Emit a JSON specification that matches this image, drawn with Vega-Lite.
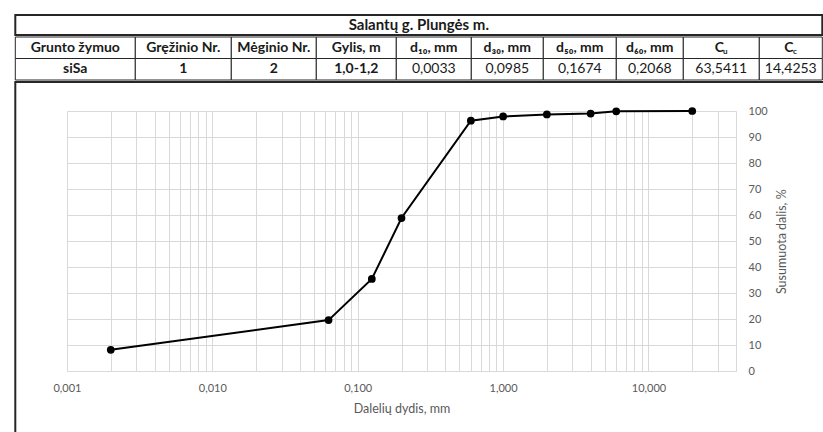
{
  "$schema": "https://vega.github.io/schema/vega-lite/v6.json",
  "padding": {"left": 14, "top": 14, "right": 0, "bottom": 0},
  "background": "#ffffff",
  "config": {
    "view": {"stroke": null},
    "font": "Lato",
    "text": {"font": "Lato", "fontSize": 14, "color": "#1a1a1a", "baseline": "middle", "align": "center"}
  },
  "datasets": {
    "table": [
      {"col": "title", "row": "title", "text": "Salantų g. Plungės m.", "sub": ""},
      {"col": "c1", "row": "header", "text": "Grunto žymuo", "sub": ""},
      {"col": "c1", "row": "value", "text": "siSa", "sub": ""},
      {"col": "c2", "row": "header", "text": "Gręžinio Nr.", "sub": ""},
      {"col": "c2", "row": "value", "text": "1", "sub": ""},
      {"col": "c3", "row": "header", "text": "Mėginio Nr.", "sub": ""},
      {"col": "c3", "row": "value", "text": "2", "sub": ""},
      {"col": "c4", "row": "header", "text": "Gylis, m", "sub": ""},
      {"col": "c4", "row": "value", "text": "1,0-1,2", "sub": ""},
      {"col": "c5", "row": "header", "text": "d₁₀, mm", "sub": ""},
      {"col": "c5", "row": "value", "text": "0,0033", "sub": ""},
      {"col": "c6", "row": "header", "text": "d₃₀, mm", "sub": ""},
      {"col": "c6", "row": "value", "text": "0,0985", "sub": ""},
      {"col": "c7", "row": "header", "text": "d₅₀, mm", "sub": ""},
      {"col": "c7", "row": "value", "text": "0,1674", "sub": ""},
      {"col": "c8", "row": "header", "text": "d₆₀, mm", "sub": ""},
      {"col": "c8", "row": "value", "text": "0,2068", "sub": ""},
      {"col": "c9", "row": "header", "text": "C", "sub": "u"},
      {"col": "c9", "row": "value", "text": "63,5411", "sub": ""},
      {"col": "c10", "row": "header", "text": "C", "sub": "c"},
      {"col": "c10", "row": "value", "text": "14,4253", "sub": ""}
    ],
    "grading": [
      {"size": 0.002, "pass": 8.3},
      {"size": 0.063, "pass": 19.7},
      {"size": 0.125, "pass": 35.5},
      {"size": 0.2, "pass": 58.9},
      {"size": 0.6, "pass": 96.3},
      {"size": 1, "pass": 97.9},
      {"size": 2, "pass": 98.7},
      {"size": 4, "pass": 99.0},
      {"size": 6, "pass": 99.9},
      {"size": 20, "pass": 100}
    ]
  },
  "spacing": 0,
  "vconcat": [
    {
      "data": {"name": "table"},
      "width": 807,
      "height": 20,
      "transform": [{"filter": "datum.row === 'title'"}],
      "encoding": {"x": {"field": "col", "type": "nominal", "scale": {"range": [-51.7, 755.3], "paddingInner": 0, "paddingOuter": 0}, "axis": null}},
      "layer": [
        {"mark": {"type": "rect", "fill": "#ffffff", "stroke": "#262626", "strokeWidth": 2}},
        {"mark": {"type": "text", "fontWeight": "bold", "fontSize": 15}, "encoding": {"text": {"field": "text"}}}
      ]
    },
    {
      "data": {"name": "table"},
      "spacing": 0,
      "bounds": "flush",
      "hconcat": [
        {
          "width": 120, "height": 43,
          "transform": [{"filter": "datum.col === 'c1'"}],
          "encoding": {
            "x": {"field": "col", "type": "nominal", "scale": {"range": [-51.7, 68.3], "paddingInner": 0, "paddingOuter": 0}, "axis": null},
            "y": {"field": "row", "type": "nominal", "scale": {"domain": ["header", "value"], "paddingInner": 0, "paddingOuter": 0}, "axis": null}
          },
          "layer": [
            {"mark": {"type": "rect", "fill": "#ffffff", "stroke": "#262626", "strokeWidth": 1}},
            {"mark": {"type": "text", "fontWeight": "bold"}, "encoding": {"text": {"field": "text"}}}
          ]
        },
        {
          "width": 96, "height": 43,
          "transform": [{"filter": "datum.col === 'c2'"}],
          "encoding": {
            "x": {"field": "col", "type": "nominal", "scale": {"range": [-51.7, 44.3], "paddingInner": 0, "paddingOuter": 0}, "axis": null},
            "y": {"field": "row", "type": "nominal", "scale": {"domain": ["header", "value"], "paddingInner": 0, "paddingOuter": 0}, "axis": null}
          },
          "layer": [
            {"mark": {"type": "rect", "fill": "#ffffff", "stroke": "#262626", "strokeWidth": 1}},
            {"mark": {"type": "text", "fontWeight": "bold"}, "encoding": {"text": {"field": "text"}}}
          ]
        },
        {
          "width": 85, "height": 43,
          "transform": [{"filter": "datum.col === 'c3'"}],
          "encoding": {
            "x": {"field": "col", "type": "nominal", "scale": {"range": [-51.7, 33.3], "paddingInner": 0, "paddingOuter": 0}, "axis": null},
            "y": {"field": "row", "type": "nominal", "scale": {"domain": ["header", "value"], "paddingInner": 0, "paddingOuter": 0}, "axis": null}
          },
          "layer": [
            {"mark": {"type": "rect", "fill": "#ffffff", "stroke": "#262626", "strokeWidth": 1}},
            {"mark": {"type": "text", "fontWeight": "bold"}, "encoding": {"text": {"field": "text"}}}
          ]
        },
        {
          "width": 80, "height": 43,
          "transform": [{"filter": "datum.col === 'c4'"}],
          "encoding": {
            "x": {"field": "col", "type": "nominal", "scale": {"range": [-51.7, 28.3], "paddingInner": 0, "paddingOuter": 0}, "axis": null},
            "y": {"field": "row", "type": "nominal", "scale": {"domain": ["header", "value"], "paddingInner": 0, "paddingOuter": 0}, "axis": null}
          },
          "layer": [
            {"mark": {"type": "rect", "fill": "#ffffff", "stroke": "#262626", "strokeWidth": 1}},
            {"mark": {"type": "text", "fontWeight": "bold"}, "encoding": {"text": {"field": "text"}}}
          ]
        },
        {
          "width": 75, "height": 43,
          "transform": [{"filter": "datum.col === 'c5'"}],
          "encoding": {
            "x": {"field": "col", "type": "nominal", "scale": {"range": [-51.7, 23.3], "paddingInner": 0, "paddingOuter": 0}, "axis": null},
            "y": {"field": "row", "type": "nominal", "scale": {"domain": ["header", "value"], "paddingInner": 0, "paddingOuter": 0}, "axis": null}
          },
          "layer": [
            {"mark": {"type": "rect", "fill": "#ffffff", "stroke": "#262626", "strokeWidth": 1}},
            {"transform": [{"filter": "datum.row === 'header'"}], "mark": {"type": "text", "fontWeight": "bold"}, "encoding": {"text": {"field": "text"}}},
            {"transform": [{"filter": "datum.row === 'value'"}], "mark": {"type": "text", "fontWeight": "normal"}, "encoding": {"text": {"field": "text"}}}
          ]
        },
        {
          "width": 72, "height": 43,
          "transform": [{"filter": "datum.col === 'c6'"}],
          "encoding": {
            "x": {"field": "col", "type": "nominal", "scale": {"range": [-51.7, 20.3], "paddingInner": 0, "paddingOuter": 0}, "axis": null},
            "y": {"field": "row", "type": "nominal", "scale": {"domain": ["header", "value"], "paddingInner": 0, "paddingOuter": 0}, "axis": null}
          },
          "layer": [
            {"mark": {"type": "rect", "fill": "#ffffff", "stroke": "#262626", "strokeWidth": 1}},
            {"transform": [{"filter": "datum.row === 'header'"}], "mark": {"type": "text", "fontWeight": "bold"}, "encoding": {"text": {"field": "text"}}},
            {"transform": [{"filter": "datum.row === 'value'"}], "mark": {"type": "text", "fontWeight": "normal"}, "encoding": {"text": {"field": "text"}}}
          ]
        },
        {
          "width": 73, "height": 43,
          "transform": [{"filter": "datum.col === 'c7'"}],
          "encoding": {
            "x": {"field": "col", "type": "nominal", "scale": {"range": [-51.7, 21.3], "paddingInner": 0, "paddingOuter": 0}, "axis": null},
            "y": {"field": "row", "type": "nominal", "scale": {"domain": ["header", "value"], "paddingInner": 0, "paddingOuter": 0}, "axis": null}
          },
          "layer": [
            {"mark": {"type": "rect", "fill": "#ffffff", "stroke": "#262626", "strokeWidth": 1}},
            {"transform": [{"filter": "datum.row === 'header'"}], "mark": {"type": "text", "fontWeight": "bold"}, "encoding": {"text": {"field": "text"}}},
            {"transform": [{"filter": "datum.row === 'value'"}], "mark": {"type": "text", "fontWeight": "normal"}, "encoding": {"text": {"field": "text"}}}
          ]
        },
        {
          "width": 67, "height": 43,
          "transform": [{"filter": "datum.col === 'c8'"}],
          "encoding": {
            "x": {"field": "col", "type": "nominal", "scale": {"range": [-51.7, 15.3], "paddingInner": 0, "paddingOuter": 0}, "axis": null},
            "y": {"field": "row", "type": "nominal", "scale": {"domain": ["header", "value"], "paddingInner": 0, "paddingOuter": 0}, "axis": null}
          },
          "layer": [
            {"mark": {"type": "rect", "fill": "#ffffff", "stroke": "#262626", "strokeWidth": 1}},
            {"transform": [{"filter": "datum.row === 'header'"}], "mark": {"type": "text", "fontWeight": "bold"}, "encoding": {"text": {"field": "text"}}},
            {"transform": [{"filter": "datum.row === 'value'"}], "mark": {"type": "text", "fontWeight": "normal"}, "encoding": {"text": {"field": "text"}}}
          ]
        },
        {
          "width": 76, "height": 43,
          "transform": [{"filter": "datum.col === 'c9'"}],
          "encoding": {
            "x": {"field": "col", "type": "nominal", "scale": {"range": [-51.7, 24.3], "paddingInner": 0, "paddingOuter": 0}, "axis": null},
            "y": {"field": "row", "type": "nominal", "scale": {"domain": ["header", "value"], "paddingInner": 0, "paddingOuter": 0}, "axis": null}
          },
          "layer": [
            {"mark": {"type": "rect", "fill": "#ffffff", "stroke": "#262626", "strokeWidth": 1}},
            {"transform": [{"filter": "datum.row === 'header'"}], "mark": {"type": "text", "fontWeight": "bold", "dx": -2}, "encoding": {"text": {"field": "text"}}},
            {"transform": [{"filter": "datum.row === 'header'"}], "mark": {"type": "text", "fontWeight": "bold", "fontSize": 8, "dx": 4, "dy": 4}, "encoding": {"text": {"field": "sub"}}},
            {"transform": [{"filter": "datum.row === 'value'"}], "mark": {"type": "text", "fontWeight": "normal"}, "encoding": {"text": {"field": "text"}}}
          ]
        },
        {
          "width": 63, "height": 43,
          "transform": [{"filter": "datum.col === 'c10'"}],
          "encoding": {
            "x": {"field": "col", "type": "nominal", "scale": {"range": [-51.7, 11.3], "paddingInner": 0, "paddingOuter": 0}, "axis": null},
            "y": {"field": "row", "type": "nominal", "scale": {"domain": ["header", "value"], "paddingInner": 0, "paddingOuter": 0}, "axis": null}
          },
          "layer": [
            {"mark": {"type": "rect", "fill": "#ffffff", "stroke": "#262626", "strokeWidth": 1}},
            {"transform": [{"filter": "datum.row === 'header'"}], "mark": {"type": "text", "fontWeight": "bold", "dx": -2}, "encoding": {"text": {"field": "text"}}},
            {"transform": [{"filter": "datum.row === 'header'"}], "mark": {"type": "text", "fontWeight": "bold", "fontSize": 8, "dx": 4, "dy": 4}, "encoding": {"text": {"field": "sub"}}},
            {"transform": [{"filter": "datum.row === 'value'"}], "mark": {"type": "text", "fontWeight": "normal"}, "encoding": {"text": {"field": "text"}}}
          ]
        }
      ]
    },
    {
      "width": 669,
      "height": 260.4,
      "resolve": {"scale": {"x": "independent", "y": "independent"}, "axis": {"x": "independent", "y": "independent"}},
      "layer": [
        {
          "data": {"name": "table"},
          "transform": [{"filter": "datum.row === 'title'"}],
          "mark": {"type": "rect", "fill": "transparent", "stroke": "#262626", "strokeWidth": 2},
          "encoding": {
            "x": {"field": "col", "type": "nominal", "scale": {"range": [-51.7, 820], "paddingInner": 0, "paddingOuter": 0}, "axis": null},
            "y": {"field": "row", "type": "nominal", "scale": {"range": [-29, 340], "paddingInner": 0, "paddingOuter": 0}, "axis": null}
          }
        },
        {
          "data": {"name": "grading"},
          "encoding": {
            "x": {
              "field": "size", "type": "quantitative",
              "scale": {"type": "log", "domain": [0.001, 40], "nice": false},
              "axis": {
                "orient": "bottom",
                "values": [0.001, 0.002, 0.003, 0.004, 0.005, 0.006, 0.007, 0.008, 0.009, 0.01, 0.02, 0.03, 0.04, 0.05, 0.06, 0.07, 0.08, 0.09, 0.1, 0.2, 0.3, 0.4, 0.5, 0.6, 0.7, 0.8, 0.9, 1, 2, 3, 4, 5, 6, 7, 8, 9, 10, 20, 30, 40],
                "labelExpr": "indexof([0.001, 0.01, 0.1, 1, 10], datum.value) >= 0 ? replace(format(datum.value, '.3f'), '.', ',') : ''",
                "labelOverlap": false,
                "labelFlush": false,
                "labelBound": false,
                "grid": true,
                "gridColor": "#d9d9d9",
                "gridWidth": 1,
                "ticks": false,
                "domain": false,
                "labelPadding": 11,
                "labelColor": "#595959",
                "labelFont": "Lato",
                "labelFontSize": 11,
                "title": "Dalelių dydis, mm",
                "titleColor": "#595959",
                "titleFont": "Lato",
                "titleFontSize": 12.5,
                "titleFontWeight": "normal",
                "titlePadding": 9
              }
            },
            "y": {
              "field": "pass", "type": "quantitative",
              "scale": {"domain": [0, 100], "nice": false},
              "axis": {
                "orient": "right",
                "values": [0, 10, 20, 30, 40, 50, 60, 70, 80, 90, 100],
                "grid": true,
                "gridColor": "#d9d9d9",
                "gridWidth": 1,
                "ticks": false,
                "domain": false,
                "labelPadding": 12,
                "labelAlign": "left",
                "labelColor": "#595959",
                "labelFont": "Lato",
                "labelFontSize": 11,
                "labelFlush": false,
                "labelOverlap": false,
                "title": "Susumuota dalis, %",
                "titleAngle": 270,
                "titleColor": "#595959",
                "titleFont": "Lato",
                "titleFontSize": 12.5,
                "titleFontWeight": "normal",
                "titlePadding": 21
              }
            }
          },
          "layer": [
            {"mark": {"type": "line", "color": "#000000", "strokeWidth": 2}},
            {"mark": {"type": "point", "filled": true, "color": "#000000", "size": 60, "opacity": 1}}
          ]
        }
      ]
    }
  ]
}
